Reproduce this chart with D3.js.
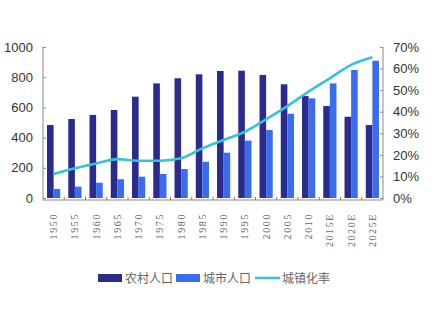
<!DOCTYPE html>
<html><head><meta charset="utf-8">
<script src="https://cdn.jsdelivr.net/npm/d3@7"></script>
<style>body{margin:0;background:#fff}svg{display:block}</style>
</head><body>
<svg id="c" width="448" height="328"></svg>
<script>
const years = ["1950","1955","1960","1965","1970","1975","1980","1985","1990","1995","2000","2005","2010","2015E","2020E","2025E"];
const rural = [483,523,550,583,671,759,793,819,841,843,815,753,675,609,538,483];
const urban = [60,75,101,124,141,159,192,240,300,380,450,558,660,759,848,909];
const rate = [11.1,13.8,16.0,18.0,17.3,17.3,18.4,23.0,26.9,30.7,36.5,42.6,49.3,55.5,61.7,65.2];
const leftTicks = [0,200,400,600,800,1000];
const rightTicks = [0,10,20,30,40,50,60,70];
const legendLabels = ["农村人口","城市人口","城镇化率"];
const colors = {rural:"#2b2b8e", urban:"#3a6cf0", line:"#35c3d8", axis:"#8a8a8a", text:"#333"};

const svg = d3.select("#c");
const x0 = 43, x1 = 383, yB = 198, yT = 47;
const x = d3.scaleBand().domain(years).range([x0, x1]).paddingInner(0).paddingOuter(0);
const yL = d3.scaleLinear().domain([0,1000]).range([yB, yT]);
const yR = d3.scaleLinear().domain([0,70]).range([yB, yT]);
const bw = 6.6;

// bars
const g = svg.append("g");
g.selectAll(".r").data(years).join("rect")
  .attr("x", d => x(d) + x.bandwidth()/2 - bw)
  .attr("width", bw)
  .attr("y", (d,i) => yL(rural[i]))
  .attr("height", (d,i) => yB - yL(rural[i]))
  .attr("fill", colors.rural);
g.selectAll(".u").data(years).join("rect")
  .attr("x", d => x(d) + x.bandwidth()/2)
  .attr("width", bw)
  .attr("y", (d,i) => yL(urban[i]))
  .attr("height", (d,i) => yB - yL(urban[i]))
  .attr("fill", colors.urban);

// line
const line = d3.line().x((d,i) => x(years[i]) + x.bandwidth()/2).y(d => yR(d)).curve(d3.curveMonotoneX);
svg.append("path").datum(rate).attr("d", line).attr("fill","none")
  .attr("stroke", colors.line).attr("stroke-width", 2.6);

// axes
const axL = d3.axisLeft(yL).tickValues(leftTicks).tickFormat(d3.format("d")).tickSize(-3).tickPadding(10);
const gL = svg.append("g").attr("transform", `translate(${x0},0)`).call(axL);
const axR = d3.axisRight(yR).tickValues(rightTicks).tickFormat(d => d + "%").tickSize(-3).tickPadding(10);
const gR = svg.append("g").attr("transform", `translate(${x1},0)`).call(axR);
[gL, gR].forEach(gg => {
  gg.select(".domain").attr("stroke", colors.axis);
  gg.selectAll(".tick line").attr("stroke", colors.axis);
  gg.selectAll("text").attr("font-family","Liberation Sans, Arial, sans-serif").attr("font-size", 13).attr("fill", colors.text);
});
gL.select(".domain").attr("d", `M0,${yT}V${yB + 2}`);
gR.select(".domain").attr("d", `M0,${yT}V${yB + 2}`);

// x axis
svg.append("line").attr("x1", x0).attr("x2", x1).attr("y1", yB + 2).attr("y2", yB + 2).attr("stroke", colors.axis);
svg.selectAll(".xt").data(years.slice(1)).join("line")
  .attr("x1", d => x(d)).attr("x2", d => x(d)).attr("y1", yB + 2).attr("y2", yB - 1)
  .attr("stroke", "#8a7a40");
svg.selectAll(".xl").data(years).join("text")
  .attr("transform", d => `translate(${x(d) + x.bandwidth()/2 + 3.5},213) rotate(-90)`)
  .attr("text-anchor", "end")
  .attr("font-family", "Liberation Serif, serif").attr("font-size", 10).attr("letter-spacing", 1.6).attr("fill", "#666")
  .text(d => d);

// legend
const lg = svg.append("g").attr("font-family", "Noto Sans CJK SC, sans-serif").attr("font-size", 12).attr("fill", "#666");
const lx = [98, 176, 255];
lg.append("rect").attr("x", lx[0]).attr("y", 274).attr("width", 24).attr("height", 8).attr("fill", colors.rural);
lg.append("rect").attr("x", lx[1]).attr("y", 274).attr("width", 24).attr("height", 8).attr("fill", colors.urban);
lg.append("line").attr("x1", lx[2]).attr("x2", lx[2] + 25).attr("y1", 278).attr("y2", 278).attr("stroke", colors.line).attr("stroke-width", 2.5);
legendLabels.forEach((t, i) => {
  lg.append("text").attr("x", lx[i] + 27).attr("y", 282.5).text(t);
});
</script>
</body></html>
